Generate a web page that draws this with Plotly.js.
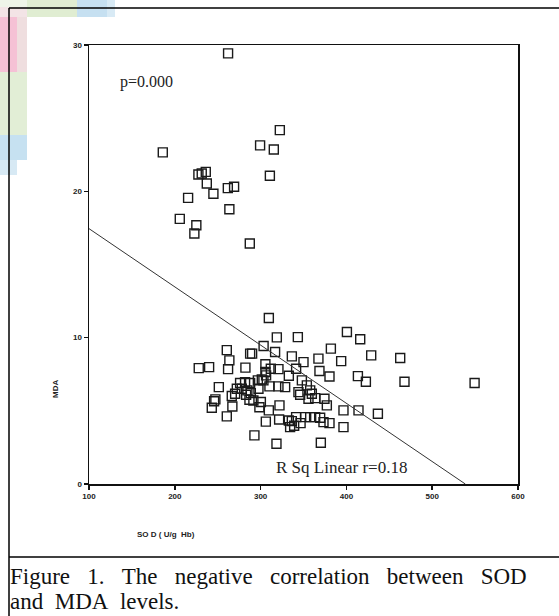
<!DOCTYPE html>
<html>
<head>
<meta charset="utf-8">
<script src="https://cdn.plot.ly/plotly-3.0.1.min.js"></script>
<style>
html,body{margin:0;padding:0;background:#fff;}
#chart{width:559px;height:616px;}
</style>
</head>
<body>
<div id="chart"></div>
<script>
// SOD (U/g Hb) values
var sod = [
  262.1, 322.4, 299.4, 315.4, 310.8, 186.0, 227.5, 231.4, 236.1, 237.3,
  245.0, 261.8, 269.1, 215.5, 263.6, 205.8, 225.1, 222.8, 287.4,
  309.6, 318.9, 343.4, 303.5, 260.6, 287.8, 290.1, 316.9, 336.4, 263.6,
  227.9, 240.0, 262.1, 282.3, 305.6, 311.9, 320.8, 305.6, 306.4, 332.9,
  341.4, 301.4, 303.3, 296.8, 251.3, 276.1, 281.9, 287.8, 310.3, 320.8,
  328.6, 272.3, 278.1, 284.6, 270.3, 266.4, 283.1, 288.6, 297.5, 344.1,
  247.3, 245.8, 243.1, 287.0, 291.6, 300.3, 298.6, 309.6, 267.1, 260.6,
  306.1, 322.0, 321.6, 332.9, 336.4, 341.4, 339.1, 334.4, 292.8, 318.5,
  400.6, 416.1, 381.9, 428.9, 393.9, 367.4, 350.0, 368.6, 380.3, 413.4,
  422.7, 462.7, 467.7, 549.4, 348.1, 353.9, 357.8, 359.7, 355.8, 363.6,
  346.1, 374.4, 377.2, 396.6, 414.1, 436.7, 396.6, 370.2, 351.9, 357.8,
  363.6, 369.4, 373.3, 380.3, 346.6
];
// MDA values
var mda = [
  29.43, 24.18, 23.14, 22.86, 21.06, 22.66, 21.15, 21.22, 21.33, 20.54,
  19.83, 20.22, 20.31, 19.55, 18.78, 18.12, 17.68, 17.12, 16.43,
  11.34, 10.02, 10.04, 9.43, 9.15, 8.91, 8.91, 9.02, 8.72, 8.45,
  7.92, 7.99, 7.85, 7.95, 8.18, 7.88, 7.85, 7.65, 7.42, 7.40,
  7.88, 7.15, 7.08, 7.08, 6.62, 6.90, 6.96, 6.90, 6.67, 6.67,
  6.62, 6.51, 6.51, 6.40, 6.17, 6.01, 6.10, 6.21, 6.51, 6.28,
  5.78, 5.66, 5.21, 5.76, 5.71, 5.60, 5.25, 5.03, 5.30, 4.62,
  4.26, 5.37, 4.41, 4.34, 4.30, 4.57, 3.98, 3.89, 3.32, 2.75,
  10.39, 9.89, 9.25, 8.79, 8.40, 8.57, 8.33, 7.72, 7.35, 7.37,
  6.99, 8.61, 6.99, 6.90, 7.08, 6.74, 6.40, 6.17, 5.83, 5.87,
  6.10, 5.83, 5.37, 5.03, 5.03, 4.80, 3.89, 2.82, 4.57, 4.57,
  4.57, 4.53, 4.23, 4.16, 4.16
];
// Linear fit line end points (SOD, MDA)
var fitX = [100, 538.6];
var fitY = [17.45, 0];

var xTicks = [100, 200, 300, 400, 500, 600];
var xTickText = ['100', '200', '300', '400', '500', '600'];
var yTicks = [0, 10, 20, 30];
var yTickText = ['0', '10', '20', '30'];

var pText = 'p=0.000';
var rText = 'R Sq Linear r=0.18';
var xTitle = 'SO D ( U/g  Hb)';
var yTitle = 'MDA';
var G = '\u00a0\u00a0\u00a0';
var captionLine1 = ['Figure', '1.', 'The', 'negative', 'correlation', 'between', 'SOD'].join(G);
var captionLine2 = ['and', 'MDA', 'levels.'].join('\u00a0\u00a0');

// layout geometry helpers (pixel -> paper)
var W = 559, H = 616, ML = 89, MR = 41, MT = 45, MB = 132;
var PW = W - ML - MR, PH = H - MT - MB;
function px(p) { return (p - ML) / PW; }
function py(p) { return (H - MB - p) / PH; }

var traces = [
  {
    x: sod, y: mda, type: 'scatter', mode: 'markers',
    marker: { symbol: 'square-open', size: 9, color: '#1a1a1a', line: { width: 1.4, color: '#1a1a1a' } },
    hoverinfo: 'x+y', showlegend: false
  },
  {
    x: fitX, y: fitY, type: 'scatter', mode: 'lines',
    line: { color: '#333', width: 1 }, hoverinfo: 'skip', showlegend: false
  }
];

function rect(x0, y0, x1, y1, c) {
  return { type: 'rect', xref: 'paper', yref: 'paper', x0: px(x0), x1: px(x1), y0: py(y0), y1: py(y1),
    fillcolor: c, line: { width: 0 }, layer: 'below' };
}
function hline(x0, x1, y, w) {
  return { type: 'line', xref: 'paper', yref: 'paper', x0: px(x0), x1: px(x1), y0: py(y), y1: py(y),
    line: { color: '#000', width: w } };
}
function vline(x, y0, y1, w) {
  return { type: 'line', xref: 'paper', yref: 'paper', x0: px(x), x1: px(x), y0: py(y0), y1: py(y1),
    line: { color: '#000', width: w } };
}

var shapes = [
  rect(0, 0, 77, 7, '#eef4e8'),
  rect(27, 0, 77, 17, '#e0edd2'),
  rect(77, 0, 107, 17, '#c6e0f1'),
  rect(107, 0, 115, 17, '#d8eaf5'),
  rect(0, 7, 27, 17, '#f3e4e6'),
  rect(0, 17, 17, 72, '#f5c1d5'),
  rect(17, 17, 27, 72, '#efdedf'),
  rect(0, 72, 27, 135, '#e2eed6'),
  rect(0, 135, 27, 160, '#c6e1f1'),
  rect(0, 160, 17, 175, '#d7e9f4'),
  vline(9, 8, 620, 1.5),
  hline(9, 562, 8, 1.5),
  hline(9, 562, 557, 1.5)
];

var annotations = [
  { xref: 'x', yref: 'y', x: 133.8, y: 27.44, xanchor: 'left', yanchor: 'middle', showarrow: false,
    text: pText, font: { family: 'Liberation Serif, Times New Roman, serif', size: 16, color: '#222' } },
  { xref: 'x', yref: 'y', x: 315.6, y: 1.13, xanchor: 'left', yanchor: 'middle', showarrow: false,
    text: rText, font: { family: 'Liberation Serif, Times New Roman, serif', size: 17, color: '#222' } },
  { xref: 'paper', yref: 'paper', x: px(55), y: py(389), xanchor: 'center', yanchor: 'middle', showarrow: false,
    textangle: -90, text: yTitle, font: { family: 'Liberation Sans, Arial, sans-serif', size: 8, color: '#222', weight: 'bold' } },
  { xref: 'paper', yref: 'paper', x: px(166), y: py(534), xanchor: 'center', yanchor: 'middle', showarrow: false,
    text: xTitle, font: { family: 'Liberation Sans, Arial, sans-serif', size: 8, color: '#222', weight: 'bold' } },
  { xref: 'paper', yref: 'paper', x: px(8), y: py(576), xanchor: 'left', yanchor: 'middle', showarrow: false,
    text: captionLine1, font: { family: 'Liberation Serif, Times New Roman, serif', size: 23, color: '#111' } },
  { xref: 'paper', yref: 'paper', x: px(8), y: py(601.5), xanchor: 'left', yanchor: 'middle', showarrow: false,
    text: captionLine2, font: { family: 'Liberation Serif, Times New Roman, serif', size: 23, color: '#111' } }
];

var layout = {
  width: W, height: H,
  margin: { l: ML, r: MR, t: MT, b: MB, pad: 0 },
  paper_bgcolor: '#fff', plot_bgcolor: '#fff',
  showlegend: false,
  xaxis: {
    range: [100, 600], tickvals: xTicks, ticktext: xTickText,
    showgrid: false, zeroline: false, showline: true, mirror: true,
    linecolor: '#111', linewidth: 1.5, ticks: 'outside', ticklen: 4, tickwidth: 1.5, tickcolor: '#111',
    tickfont: { family: 'Liberation Sans, Arial, sans-serif', size: 8, color: '#222', weight: 'bold' }
  },
  yaxis: {
    range: [0, 30], tickvals: yTicks, ticktext: yTickText,
    showgrid: false, zeroline: false, showline: true, mirror: true,
    linecolor: '#111', linewidth: 1.5, ticks: 'outside', ticklen: 4, tickwidth: 1.5, tickcolor: '#111',
    tickfont: { family: 'Liberation Sans, Arial, sans-serif', size: 8, color: '#222', weight: 'bold' }
  },
  shapes: shapes,
  annotations: annotations
};

Plotly.newPlot('chart', traces, layout, { displayModeBar: false, staticPlot: true });
</script>
</body>
</html>
